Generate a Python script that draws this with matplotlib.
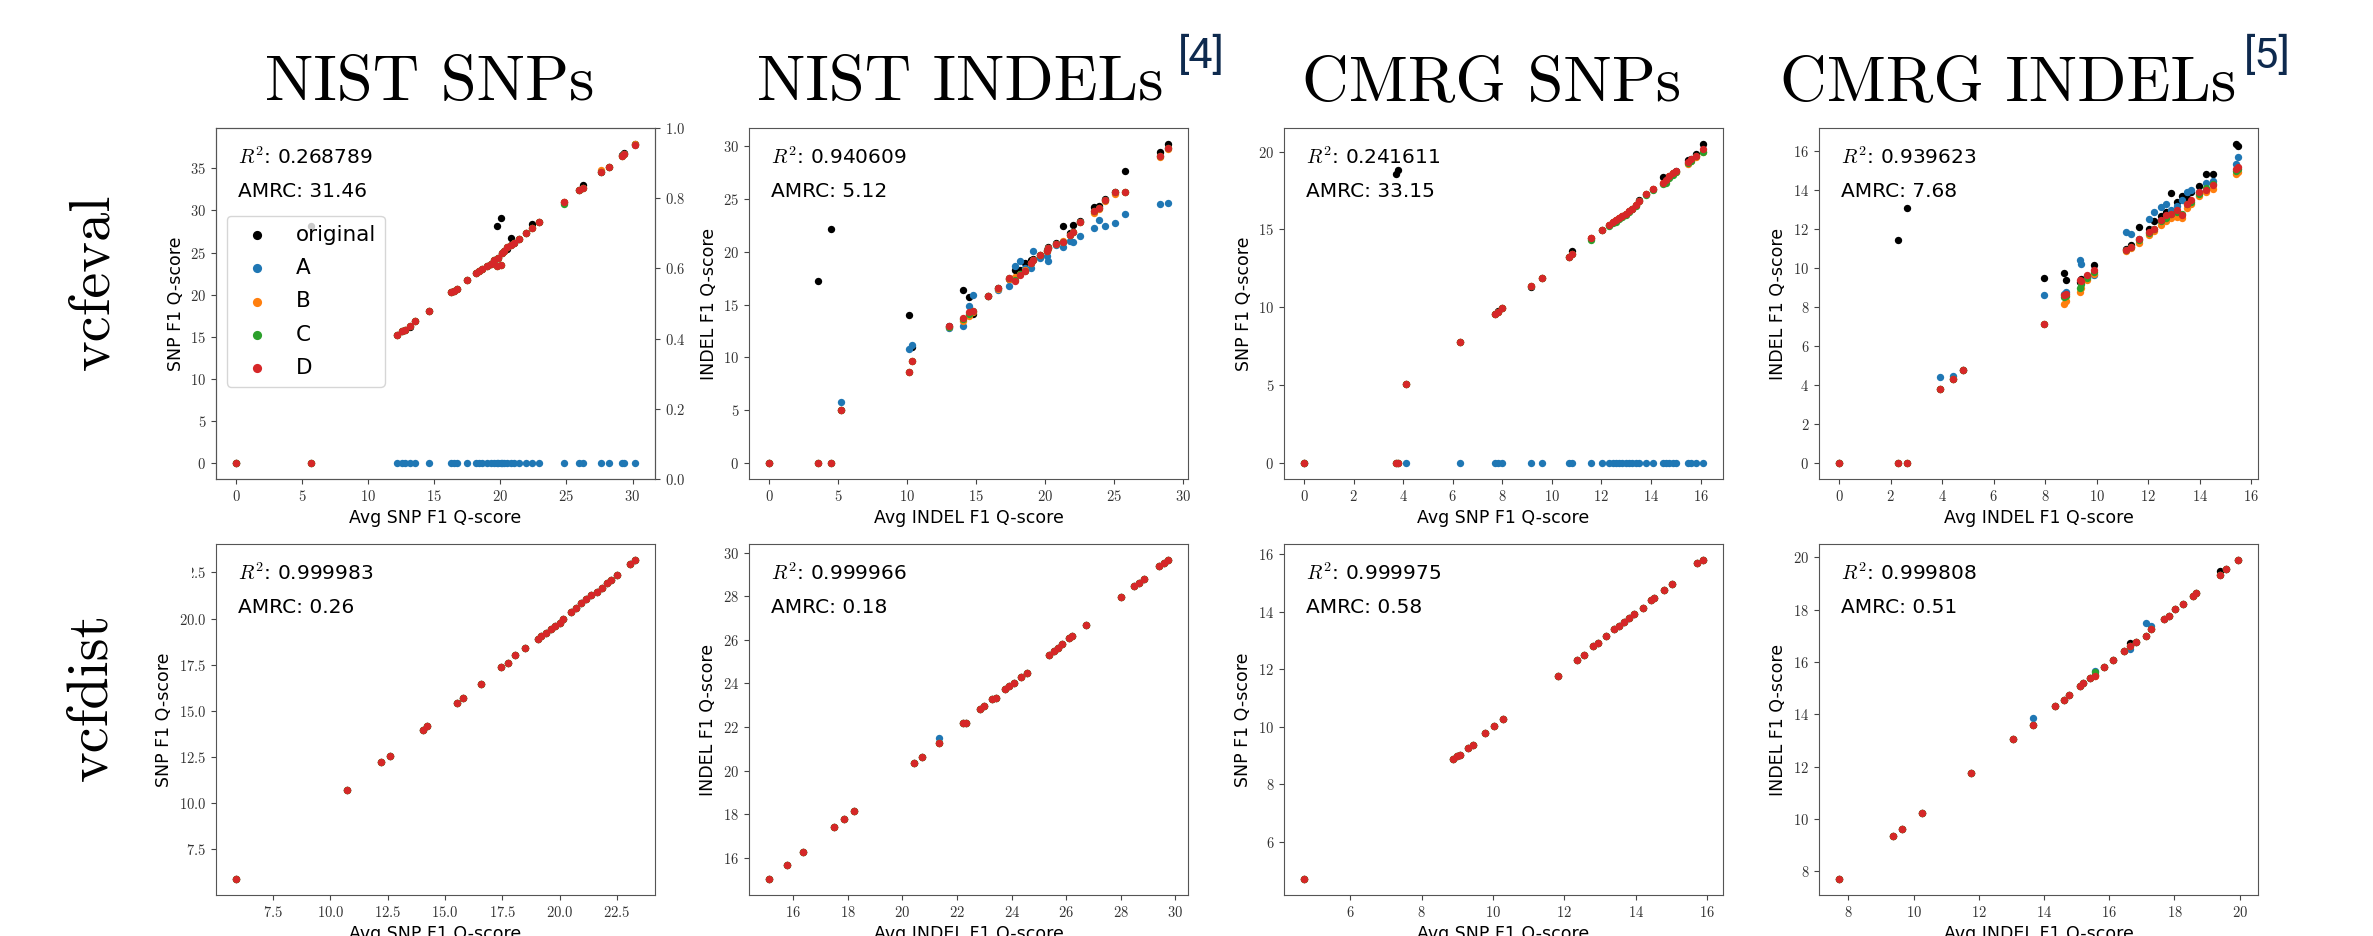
import matplotlib.pyplot as plt
from matplotlib.patches import Rectangle
from matplotlib.ticker import MultipleLocator

plt.rcParams['font.family'] = 'cmr10'
plt.rcParams['mathtext.fontset'] = 'cm'
plt.rcParams['axes.formatter.use_mathtext'] = True

series_names = ['original', 'A', 'B', 'C', 'D']
series_colors = ['black', 'tab:blue', 'tab:orange', 'tab:green', 'tab:red']

col_titles = ['NIST SNPs', 'NIST INDELs', 'CMRG SNPs', 'CMRG INDELs']
col_refs = ['', '[4]', '', '[5]']
col_vars = ['SNP', 'INDEL', 'SNP', 'INDEL']
row_titles = ['vcfeval', 'vcfdist']
r2_values = [['0.268789', '0.940609', '0.241611', '0.939623'],
             ['0.999983', '0.999966', '0.999975', '0.999808']]
amrc_values = [['31.46', '5.12', '33.15', '7.68'],
               ['0.26', '0.18', '0.58', '0.51']]

# ---- vcfeval, NIST SNPs
nist_snp_eval_avg = [0.0, 5.7, 12.19, 12.57, 12.82, 13.2, 13.58, 14.59, 16.23, 16.49, 16.69, 17.5, 18.13,
                     18.38, 18.63, 19.01, 19.27, 19.52, 19.72, 19.8, 20.05, 20.1, 20.3, 20.53, 20.78, 21.04,
                     21.42, 21.92, 22.43, 22.93, 24.83, 25.97, 26.22, 27.61, 28.24, 29.18, 29.38, 30.19]
nist_snp_eval_orig = [0.0, 28.2, 15.26, 15.66, 15.85, 16.2, 16.92, 18.11, 20.29, 20.49, 20.69, 21.8, 22.59,
                      22.79, 23.07, 23.38, 23.7, 24.1, 28.14, 24.4, 29.09, 24.97, 25.17, 25.37, 26.75, 26.16,
                      26.63, 27.27, 28.34, 28.66, 31.03, 32.38, 32.98, 34.56, 35.16, 36.6, 36.86, 37.9]
nist_snp_eval_a = [0.0, 0.0, 0.0, 0.0, 0.0, 0.0, 0.0, 0.0, 0.0, 0.0, 0.0, 0.0, 0.0,
                   0.0, 0.0, 0.0, 0.0, 0.0, 0.0, 0.0, 0.0, 0.0, 0.0, 0.0, 0.0, 0.0,
                   0.0, 0.0, 0.0, 0.0, 0.0, 0.0, 0.0, 0.0, 0.0, 0.0, 0.0, 0.0]
nist_snp_eval_b = [0.0, 0.0, 15.26, 15.66, 15.85, 16.33, 16.92, 18.11, 20.29, 20.49, 20.69, 21.8, 22.59,
                   22.79, 23.07, 23.38, 23.7, 24.1, 23.46, 24.4, 23.54, 24.97, 25.17, 25.64, 25.84, 26.16,
                   26.63, 27.27, 27.94, 28.66, 31.03, 32.38, 32.66, 34.85, 35.16, 36.46, 36.7, 37.9]
nist_snp_eval_c = [0.0, 0.0, 15.26, 15.66, 15.85, 16.33, 16.92, 18.11, 20.29, 20.49, 20.69, 21.8, 22.59,
                   22.79, 23.07, 23.38, 23.7, 24.1, 23.46, 24.4, 23.54, 24.97, 25.17, 25.64, 25.84, 26.16,
                   26.63, 27.27, 27.94, 28.66, 30.75, 32.38, 32.66, 34.56, 35.16, 36.46, 36.7, 37.73]
nist_snp_eval_d = [0.0, 0.0, 15.26, 15.66, 15.85, 16.33, 16.92, 18.11, 20.29, 20.49, 20.69, 21.8, 22.59,
                   22.79, 23.07, 23.38, 23.7, 24.1, 23.46, 24.4, 23.54, 24.97, 25.17, 25.64, 25.84, 26.16,
                   26.63, 27.27, 27.94, 28.66, 31.03, 32.38, 32.66, 34.56, 35.16, 36.46, 36.7, 37.73]

# ---- vcfeval, NIST INDELs
nist_indel_eval_avg = [0.0, 3.52, 4.49, 5.21, 10.14, 10.38, 13.02, 14.07, 14.5, 14.8, 15.89, 16.57, 17.41,
                       17.83, 18.19, 18.55, 19.0, 19.16, 19.65, 20.13, 20.25, 20.8, 21.34, 21.8, 22.07, 22.56,
                       23.53, 23.89, 24.38, 25.1, 25.83, 28.38, 28.93]
nist_indel_eval_orig = [0.0, 17.18, 22.12, 5.0, 14.02, 10.97, 12.92, 16.36, 15.69, 14.12, 15.85, 16.55, 17.4,
                        18.22, 18.3, 18.91, 19.2, 19.3, 19.7, 20.2, 20.4, 20.8, 22.44, 21.8, 22.53, 22.9,
                        24.2, 24.36, 24.96, 25.6, 27.67, 29.47, 30.19]
nist_indel_eval_a = [0.0, 0.0, 0.0, 5.77, 10.78, 11.19, 12.76, 12.92, 14.9, 15.92, 15.76, 16.4, 16.77,
                     18.66, 19.16, 18.44, 18.5, 20.1, 19.38, 19.6, 19.16, 20.6, 20.48, 21.0, 20.96, 21.49,
                     22.22, 23.0, 22.44, 22.75, 23.57, 24.49, 24.58]
nist_indel_eval_b = [0.0, 0.0, 0.0, 4.98, 8.6, 9.7, 12.9, 13.4, 13.9, 14.3, 15.8, 16.5, 17.45,
                     17.6, 17.9, 18.3, 18.95, 19.2, 19.7, 20.1, 20.3, 20.7, 21.0, 21.6, 21.9, 22.8,
                     23.7, 24.0, 24.8, 25.5, 25.6, 29.0, 29.7]
nist_indel_eval_c = [0.0, 0.0, 0.0, 4.98, 8.6, 9.7, 12.9, 13.6, 14.1, 14.4, 15.85, 16.55, 17.5,
                     17.3, 17.85, 18.2, 18.9, 19.2, 19.7, 20.1, 20.3, 20.7, 20.96, 21.6, 21.9, 22.85,
                     23.8, 24.1, 24.9, 25.6, 25.69, 29.06, 29.78]
nist_indel_eval_d = [0.0, 0.0, 0.0, 4.98, 8.57, 9.68, 12.92, 13.71, 14.25, 14.43, 15.85, 16.55, 17.49,
                     17.27, 17.8, 18.2, 18.9, 19.2, 19.7, 20.1, 20.3, 20.7, 20.96, 21.6, 21.9, 22.85,
                     23.8, 24.1, 24.9, 25.6, 25.69, 29.06, 29.78]

# ---- vcfeval, CMRG SNPs
cmrg_snp_eval_avg = [0.0, 3.7, 3.8, 4.1, 6.28, 7.7, 7.83, 7.99, 9.14, 9.59, 10.69, 10.8, 11.6, 12.02,
                     12.31, 12.45, 12.58, 12.72, 12.85, 12.98, 13.12, 13.25, 13.39, 13.5, 13.8, 14.07,
                     14.47, 14.6, 14.74, 14.88, 15.01, 15.49, 15.6, 15.83, 16.1]
cmrg_snp_eval_orig = [0.0, 18.55, 18.8, 5.08, 7.79, 9.56, 9.75, 9.93, 11.3, 11.91, 13.23, 13.6, 14.45, 14.98,
                      15.3, 15.45, 15.58, 15.72, 15.84, 16.0, 16.16, 16.33, 16.54, 16.9, 17.25, 17.61,
                      18.36, 18.2, 18.46, 18.6, 18.78, 19.45, 19.5, 19.82, 20.49]
cmrg_snp_eval_a = [0.0, 0.0, 0.0, 0.0, 0.0, 0.0, 0.0, 0.0, 0.0, 0.0, 0.0, 0.0, 0.0, 0.0,
                   0.0, 0.0, 0.0, 0.0, 0.0, 0.0, 0.0, 0.0, 0.0, 0.0, 0.0, 0.0,
                   0.0, 0.0, 0.0, 0.0, 0.0, 0.0, 0.0, 0.0, 0.0]
cmrg_snp_eval_b = [0.0, 0.0, 0.0, 5.08, 7.79, 9.56, 9.71, 9.93, 11.38, 11.91, 13.23, 13.45, 14.45, 14.98,
                   15.3, 15.45, 15.58, 15.72, 15.84, 16.0, 16.16, 16.33, 16.54, 16.82, 17.25, 17.61,
                   17.97, 18.1, 18.46, 18.6, 18.7, 19.2, 19.4, 19.65, 19.95]
cmrg_snp_eval_c = [0.0, 0.0, 0.0, 5.08, 7.79, 9.56, 9.71, 9.93, 11.38, 11.91, 13.23, 13.45, 14.3, 14.98,
                   15.2, 15.4, 15.5, 15.65, 15.8, 15.95, 16.1, 16.3, 16.5, 16.8, 17.2, 17.55,
                   17.9, 18.0, 18.3, 18.5, 18.7, 19.25, 19.4, 19.7, 20.0]
cmrg_snp_eval_d = [0.0, 0.0, 0.0, 5.08, 7.79, 9.56, 9.71, 9.93, 11.38, 11.91, 13.23, 13.45, 14.45, 14.98,
                   15.3, 15.45, 15.58, 15.72, 15.84, 16.0, 16.16, 16.33, 16.54, 16.82, 17.25, 17.61,
                   17.97, 18.2, 18.46, 18.6, 18.78, 19.32, 19.5, 19.74, 20.17]

# ---- vcfeval, CMRG INDELs
cmrg_indel_eval_avg = [0.0, 2.29, 2.64, 3.91, 4.43, 4.8, 7.95, 8.72, 8.79, 9.35, 9.4, 9.63, 9.89, 11.12,
                       11.31, 11.64, 12.03, 12.22, 12.48, 12.67, 12.87, 13.13, 13.32, 13.5, 13.64, 13.97,
                       14.22, 14.49, 15.39, 15.48]
cmrg_indel_eval_orig = [0.0, 11.43, 13.11, 3.79, 4.3, 4.78, 9.5, 9.78, 9.42, 9.3, 9.45, 9.6, 10.15, 11.0,
                        11.2, 12.12, 12.0, 12.4, 12.7, 12.9, 13.86, 13.4, 13.7, 13.6, 13.9, 14.2,
                        14.85, 14.85, 16.38, 16.25]
cmrg_indel_eval_a = [0.0, 0.0, 0.0, 4.4, 4.49, 4.78, 8.62, 8.7, 8.8, 10.44, 10.2, 9.5, 9.64, 11.86,
                     11.74, 11.5, 12.51, 12.88, 13.14, 13.28, 13.0, 13.2, 13.5, 13.9, 14.04, 13.9,
                     14.4, 14.5, 15.36, 15.7]
cmrg_indel_eval_b = [0.0, 0.0, 0.0, 3.79, 4.3, 4.78, 7.13, 8.19, 8.3, 8.79, 9.0, 9.4, 9.7, 10.9,
                     11.05, 11.3, 11.7, 11.9, 12.2, 12.4, 12.6, 12.63, 12.58, 13.1, 13.3, 13.7,
                     13.9, 14.08, 14.85, 14.95]
cmrg_indel_eval_c = [0.0, 0.0, 0.0, 3.79, 4.3, 4.78, 7.13, 8.5, 8.6, 9.0, 9.2, 9.5, 9.8, 10.95,
                     11.1, 11.45, 11.8, 12.0, 12.4, 12.6, 12.8, 12.9, 12.8, 13.3, 13.4, 13.8,
                     14.1, 14.3, 15.0, 15.1]
cmrg_indel_eval_d = [0.0, 0.0, 0.0, 3.79, 4.3, 4.78, 7.13, 8.62, 8.66, 9.39, 9.35, 9.64, 9.9, 10.96,
                     11.1, 11.52, 11.86, 12.03, 12.46, 12.71, 12.8, 12.97, 12.71, 13.3, 13.48, 13.91,
                     14.0, 14.25, 15.1, 15.2]

# ---- vcfdist, NIST SNPs
nist_snp_dist_avg = [5.89, 10.75, 12.22, 12.62, 14.05, 14.22, 15.51, 15.8, 16.56, 17.44, 17.73, 18.06,
                     18.49, 19.05, 19.2, 19.42, 19.63, 19.81, 20.0, 20.15, 20.51, 20.73, 20.95, 21.17,
                     21.39, 21.61, 21.83, 22.05, 22.24, 22.49, 23.07, 23.29]
nist_snp_dist_q = [5.9, 10.72, 12.21, 12.54, 13.94, 14.17, 15.43, 15.72, 16.47, 17.37, 17.61, 18.01,
                   18.41, 18.91, 19.06, 19.24, 19.46, 19.6, 19.76, 19.96, 20.36, 20.58, 20.82, 21.05,
                   21.27, 21.45, 21.67, 21.9, 22.08, 22.36, 22.93, 23.17]

# ---- vcfdist, NIST INDELs
nist_indel_dist_avg = [15.11, 15.76, 16.37, 17.49, 17.87, 18.21, 20.43, 20.71, 21.35, 22.23, 22.32, 22.85,
                       23.0, 23.27, 23.42, 23.76, 23.92, 24.09, 24.35, 24.56, 25.38, 25.54, 25.69, 25.84,
                       26.11, 26.21, 26.73, 28.02, 28.5, 28.65, 28.84, 29.39, 29.57, 29.73]
nist_indel_dist_q = [15.02, 15.65, 16.25, 17.41, 17.78, 18.12, 20.35, 20.61, 21.24, 22.19, 22.2, 22.8,
                     22.96, 23.26, 23.34, 23.72, 23.87, 24.03, 24.29, 24.49, 25.3, 25.48, 25.64, 25.79,
                     26.1, 26.17, 26.66, 27.98, 28.47, 28.62, 28.77, 29.39, 29.54, 29.66]
nist_indel_dist_a = [15.02, 15.65, 16.25, 17.41, 17.78, 18.12, 20.35, 20.61, 21.5, 22.19, 22.2, 22.8,
                     22.96, 23.26, 23.34, 23.72, 23.87, 24.03, 24.29, 24.49, 25.3, 25.48, 25.64, 25.79,
                     26.1, 26.17, 26.66, 27.98, 28.47, 28.62, 28.77, 29.39, 29.54, 29.66]

# ---- vcfdist, CMRG SNPs
cmrg_snp_dist_avg = [4.71, 8.87, 8.99, 9.08, 9.29, 9.43, 9.78, 10.04, 10.27, 11.81, 12.36, 12.54, 12.79,
                     12.93, 13.17, 13.4, 13.54, 13.68, 13.82, 13.96, 14.2, 14.43, 14.52, 14.8, 15.01,
                     15.72, 15.88]
cmrg_snp_dist_q = [4.7, 8.86, 8.98, 9.03, 9.27, 9.38, 9.77, 10.03, 10.26, 11.78, 12.32, 12.51, 12.79,
                   12.92, 13.15, 13.39, 13.5, 13.64, 13.78, 13.93, 14.13, 14.4, 14.46, 14.77, 14.98,
                   15.68, 15.8]

# ---- vcfdist, CMRG INDELs
cmrg_indel_dist_avg = [7.71, 9.38, 9.64, 10.26, 11.76, 13.06, 13.66, 14.34, 14.6, 14.78, 15.11, 15.21,
                       15.42, 15.57, 15.83, 16.13, 16.44, 16.64, 16.82, 17.14, 17.28, 17.67, 17.82, 18.03,
                       18.26, 18.57, 18.67, 19.39, 19.59, 19.95]
cmrg_indel_dist_orig = [7.7, 9.36, 9.62, 10.23, 11.74, 13.04, 13.6, 14.32, 14.55, 14.74, 15.08, 15.21,
                        15.4, 15.5, 15.81, 16.08, 16.42, 16.72, 16.78, 17.0, 17.25, 17.64, 17.77, 18.02,
                        18.21, 18.53, 18.63, 19.49, 19.55, 19.9]
cmrg_indel_dist_a = [7.7, 9.36, 9.62, 10.23, 11.74, 13.04, 13.86, 14.32, 14.55, 14.74, 15.08, 15.21,
                     15.4, 15.66, 15.81, 16.08, 16.42, 16.49, 16.78, 17.48, 17.36, 17.64, 17.77, 18.02,
                     18.21, 18.53, 18.63, 19.32, 19.55, 19.9]
cmrg_indel_dist_c = [7.7, 9.36, 9.62, 10.23, 11.74, 13.04, 13.58, 14.32, 14.55, 14.74, 15.08, 15.21,
                     15.4, 15.6, 15.81, 16.08, 16.42, 16.62, 16.78, 17.0, 17.25, 17.64, 17.77, 18.02,
                     18.21, 18.53, 18.63, 19.32, 19.55, 19.9]
cmrg_indel_dist_d = [7.7, 9.36, 9.62, 10.23, 11.74, 13.04, 13.58, 14.32, 14.55, 14.74, 15.08, 15.21,
                     15.4, 15.47, 15.81, 16.08, 16.42, 16.62, 16.78, 17.0, 17.25, 17.64, 17.77, 18.02,
                     18.21, 18.53, 18.63, 19.32, 19.55, 19.9]

panels = [
    [(nist_snp_eval_avg, [nist_snp_eval_orig, nist_snp_eval_a, nist_snp_eval_b, nist_snp_eval_c, nist_snp_eval_d]),
     (nist_indel_eval_avg, [nist_indel_eval_orig, nist_indel_eval_a, nist_indel_eval_b, nist_indel_eval_c, nist_indel_eval_d]),
     (cmrg_snp_eval_avg, [cmrg_snp_eval_orig, cmrg_snp_eval_a, cmrg_snp_eval_b, cmrg_snp_eval_c, cmrg_snp_eval_d]),
     (cmrg_indel_eval_avg, [cmrg_indel_eval_orig, cmrg_indel_eval_a, cmrg_indel_eval_b, cmrg_indel_eval_c, cmrg_indel_eval_d])],
    [(nist_snp_dist_avg, [nist_snp_dist_q] * 5),
     (nist_indel_dist_avg, [nist_indel_dist_q, nist_indel_dist_a, nist_indel_dist_q, nist_indel_dist_q, nist_indel_dist_q]),
     (cmrg_snp_dist_avg, [cmrg_snp_dist_q] * 5),
     (cmrg_indel_dist_avg, [cmrg_indel_dist_orig, cmrg_indel_dist_a, cmrg_indel_dist_d, cmrg_indel_dist_c, cmrg_indel_dist_d])],
]

W, H = 2373, 936
fig = plt.figure(figsize=(W / 100, H / 100), dpi=100)

lefts = [216, 749, 1284, 1819]
tops = [128, 544]
pw, ph = 439, 351
sans = 'DejaVu Sans'

for r in range(2):
    for c in range(4):
        ax = fig.add_axes([lefts[c] / W, 1 - (tops[r] + ph) / H, pw / W, ph / H])
        avg, series = panels[r][c]
        for name, color, q in zip(series_names, series_colors, series):
            ax.scatter(avg, q, s=28, color=color, label=name, linewidths=0)
        ax.text(0.05, 0.917, f'$R^2$: {r2_values[r][c]}', transform=ax.transAxes,
                fontsize=14.5, family=sans, va='center')
        ax.text(0.05, 0.82, f'AMRC: {amrc_values[r][c]}', transform=ax.transAxes,
                fontsize=14.5, family=sans, va='center')
        ax.set_xlabel(f'Avg {col_vars[c]} F1 Q-score', fontsize=12.5, family=sans)
        ax.set_ylabel(f'{col_vars[c]} F1 Q-score', fontsize=12.5, family=sans)
        ax.tick_params(labelsize=10.5, colors='#444', labelcolor='#333')
        for sp in ax.spines.values():
            sp.set_color('#555')
        if r == 0 and c == 3:
            ax.yaxis.set_major_locator(MultipleLocator(2))
        if r == 0 and c == 0:
            ax.legend(loc='upper left', bbox_to_anchor=(0.0, 0.78), prop={'family': sans, 'size': 15.5},
                      scatterpoints=1, markerscale=1.25, labelspacing=0.62)
            ax2 = ax.twinx()
            ax2.tick_params(labelsize=10.5, colors='#444', labelcolor='#333')
            for sp in ax2.spines.values():
                sp.set_color('#555')

for c in range(4):
    cx = [430, 960, 1492, 2008][c]
    fig.text(cx / W, 1 - 100 / H, col_titles[c], fontsize=46.5, ha='center', va='baseline')
    if col_refs[c]:
        rx = [0, 1178, 0, 2244][c]
        fig.text(rx / W, 1 - 36 / H, col_refs[c], fontsize=31, family='Roboto',
                 color='#0e2a4e', ha='left', va='top')

fig.text(94 / W, 1 - 282 / H, row_titles[0], fontsize=42, rotation=90, ha='center', va='center')
fig.text(92 / W, 1 - 697 / H, row_titles[1], fontsize=42, rotation=90, ha='center', va='center')

# the row label image hides the left part of the top tick label in the vcfdist NIST SNPs panel
fig.add_artist(Rectangle((140 / W, 1 - 586 / H), 52 / W, 24 / H, transform=fig.transFigure,
                         facecolor='white', edgecolor='none', zorder=10))

fig.savefig('out.png', dpi=100)
